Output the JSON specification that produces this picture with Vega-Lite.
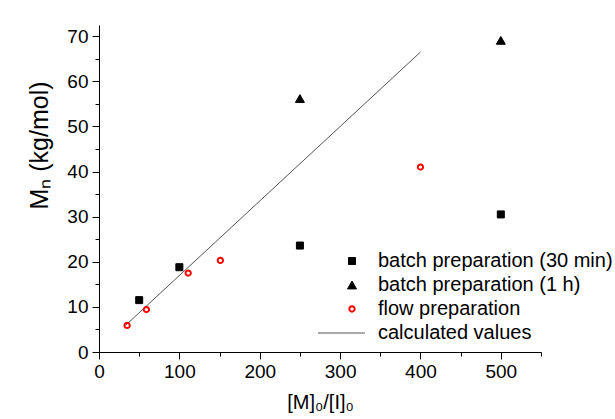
{
  "$schema": "https://vega.github.io/schema/vega-lite/v6.json",
  "width": 442,
  "height": 327,
  "autosize": {"type": "none"},
  "padding": {"left": 99, "top": 25, "right": 74, "bottom": 67},
  "background": "white",
  "config": {
    "view": {"stroke": null},
    "font": "Liberation Sans",
    "axis": {"grid": false, "domainColor": "black", "tickColor": "black", "labelColor": "black", "titleColor": "black", "titleFontWeight": "normal", "labelFont": "Liberation Sans", "titleFont": "Liberation Sans"}
  },
  "datasets": {
    "points": [
      {"x": 50, "y": 11.5, "series": "batch preparation (30 min)"},
      {"x": 100, "y": 18.8, "series": "batch preparation (30 min)"},
      {"x": 250, "y": 23.6, "series": "batch preparation (30 min)"},
      {"x": 500, "y": 30.5, "series": "batch preparation (30 min)"},
      {"x": 250, "y": 56.2, "series": "batch preparation (1 h)"},
      {"x": 500, "y": 69.1, "series": "batch preparation (1 h)"},
      {"x": 35, "y": 5.9, "series": "flow preparation"},
      {"x": 59, "y": 9.4, "series": "flow preparation"},
      {"x": 111, "y": 17.5, "series": "flow preparation"},
      {"x": 151, "y": 20.3, "series": "flow preparation"},
      {"x": 400, "y": 41.0, "series": "flow preparation"}
    ],
    "calc": [
      {"x": 33, "y": 5.9},
      {"x": 400, "y": 66.5}
    ]
  },
  "layer": [
    {
      "data": {"name": "calc"},
      "mark": {"type": "line", "color": "#555555", "strokeWidth": 1},
      "encoding": {
        "x": {"field": "x", "type": "quantitative", "scale": {"domain": [0, 550], "nice": false},
          "axis": {"orient": "bottom", "values": [0, 100, 200, 300, 400, 500], "tickSize": 7, "labelFontSize": 19, "labelPadding": 3, "labelFlush": false, "labelOverlap": false, "title": "[M]₀/[I]₀", "titleFontSize": 20, "titlePadding": 11}},
        "y": {"field": "y", "type": "quantitative", "scale": {"domain": [0, 72.5], "nice": false},
          "axis": {"orient": "left", "values": [0, 10, 20, 30, 40, 50, 60, 70], "tickSize": 7, "labelFontSize": 19, "labelPadding": 4, "labelFlush": false, "labelOverlap": false, "title": "Mₙ (kg/mol)", "titleFontSize": 25, "titleX": -60, "titleY": 120, "titleAngle": -90, "titleAlign": "center", "titleBaseline": "middle"}}
      }
    },
    {
      "data": {"name": "points"},
      "mark": {"type": "point", "filled": false, "opacity": 1, "size": 100, "strokeWidth": 1},
      "encoding": {
        "x": {"field": "x", "type": "quantitative",
          "axis": {"orient": "bottom", "values": [50, 150, 250, 350, 450, 550], "tickSize": 4, "labels": false, "domain": false, "title": null}},
        "y": {"field": "y", "type": "quantitative",
          "axis": {"orient": "left", "values": [5, 15, 25, 35, 45, 55, 65], "tickSize": 4, "labels": false, "domain": false, "title": null}},
        "shape": {"field": "series", "type": "nominal",
          "scale": {"domain": ["batch preparation (30 min)", "batch preparation (1 h)", "flow preparation", "calculated values"],
            "range": [
              "M-0.7,-0.7H0.7V0.7H-0.7Z",
              "M0,-0.78L0.9,0.78L-0.9,0.78Z",
              "M0.73,0A0.73,0.73,0,1,1,-0.73,0A0.73,0.73,0,1,1,0.73,0ZM0.33,0A0.33,0.33,0,1,0,-0.33,0A0.33,0.33,0,1,0,0.33,0Z",
              "M-6.8,0H2.6"]},
          "legend": {"title": null, "orient": "none", "legendX": 243, "legendY": 226, "padding": 0, "labelFontSize": 20, "labelFont": "Liberation Sans", "labelColor": "black", "labelLimit": 0, "labelOffset": 16, "rowPadding": 4, "symbolSize": 100, "symbolStrokeWidth": 1}},
        "fill": {"field": "series", "type": "nominal",
          "scale": {"domain": ["batch preparation (30 min)", "batch preparation (1 h)", "flow preparation", "calculated values"], "range": ["black", "black", "#ff0000", "transparent"]}},
        "stroke": {"field": "series", "type": "nominal",
          "scale": {"domain": ["batch preparation (30 min)", "batch preparation (1 h)", "flow preparation", "calculated values"], "range": ["black", "black", "transparent", "#555555"]}}
      }
    }
  ],
  "resolve": {"axis": {"x": "independent", "y": "independent"}}
}
